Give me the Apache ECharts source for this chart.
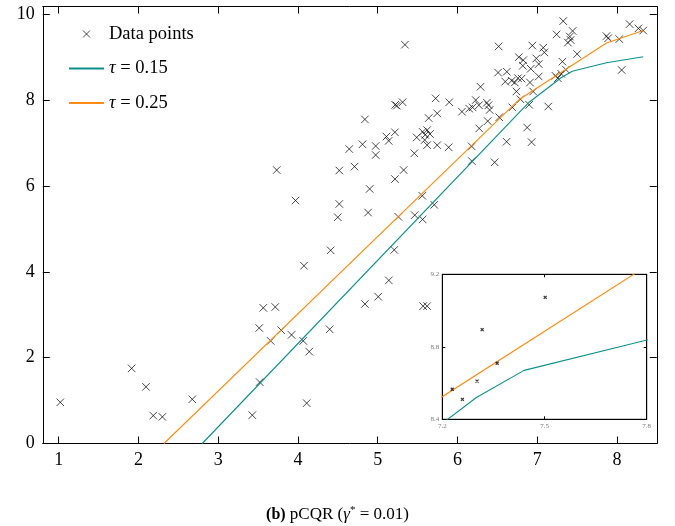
<!DOCTYPE html>
<html>
<head>
<meta charset="utf-8">
<script src="https://cdn.jsdelivr.net/npm/echarts@6/dist/echarts.min.js"></script>
<style>html,body{margin:0;padding:0;background:#fff}#c{width:675px;height:526px}</style>
</head>
<body>
<div id="c"></div>
<script>
// ---- data ----
const pointX = [1.02,1.915,2.095,2.186,2.30,2.675,3.428,3.52,3.515,3.566,3.716,3.658,3.79,3.92,4.076,4.41,4.067,4.142,4.11,4.398,4.84,5.007,5.14,5.208,5.57,5.62,
  3.734,3.97,4.519,4.71,4.644,4.81,4.975,4.975,5.138,5.46,4.519,4.50,4.90,4.88,5.217,5.326,5.26,5.465,
  5.342,6.517,6.51,6.62,6.60,6.29,5.22,5.24,5.313,5.727,5.898,4.84,5.64,5.747,6.057,6.148,6.19,6.23,6.27,6.37,6.39,6.404,6.38,6.525,6.274,5.11,5.216,5.49,5.564,5.597,5.62,5.656,5.59,5.62,5.747,5.89,6.18,6.18,6.467,6.617,5.56,
  7.327,7.244,7.445,7.41,7.42,7.386,7.502,6.94,7.077,7.09,6.77,6.826,6.82,6.92,6.99,7.02,7.317,7.87,7.89,8.03,8.16,8.27,8.33,8.06,7.14,6.875,6.93,6.91,7.02,6.95,6.74,6.79,6.69,6.90,7.229,7.302,7.361,7.259,6.68,6.72,6.76,6.805,5.564,5.71];
const pointY = [0.96,1.75,1.32,0.65,0.62,1.03,0.66,1.43,2.69,3.16,3.18,2.39,2.64,2.53,4.14,4.50,2.39,2.14,0.94,2.66,3.25,3.42,3.80,4.51,3.20,3.20,
  6.37,5.66,6.36,6.45,6.86,6.97,6.93,6.72,7.05,6.76,5.58,5.27,5.93,5.38,6.16,6.37,5.28,5.32,
  9.29,9.25,8.64,8.66,8.43,8.31,7.89,7.87,7.95,8.04,7.95,7.55,7.58,7.69,7.73,7.80,7.83,8.00,7.88,7.94,7.88,7.77,7.51,7.60,7.34,7.15,7.25,7.13,7.26,7.19,7.30,7.21,7.07,6.95,6.95,6.90,6.92,6.58,6.55,7.03,5.77,
  9.84,9.53,9.61,9.48,9.40,9.34,9.073,9.27,9.22,9.11,9.00,8.93,8.80,8.73,8.97,8.84,8.895,9.49,9.44,9.42,9.77,9.67,9.62,8.70,7.85,7.36,7.02,8.41,8.55,8.20,8.20,8.02,7.83,7.89,8.566,8.611,8.709,8.51,8.45,8.41,8.51,8.50,5.22,5.56];
const tealX = [2.80, 6.90, 7.30, 7.44, 7.87, 8.33];
const tealY = [0, 7.95, 8.52, 8.67, 8.87, 9.01];
const orangeX = [2.32, 6.78, 7.87, 8.33];
const orangeY = [0, 8.02, 9.33, 9.62];
const xTicks = [1,2,3,4,5,6,7,8];
const yTicks = [0,2,4,6,8,10];
const insetXTicks = [7.2,7.5,7.8];
const insetYTicks = [8.4,8.8,9.2];
const seriesNames = ['Data points','τ = 0.15','τ = 0.25'];
const caption = '(b)';

// ---- build ----
const zip = (a,b) => a.map((v,i)=>[v,b[i]]);
const pts = zip(pointX, pointY);
const FONT = 'Liberation Serif';
const XSYM = 'path://M0,0L10,10M10,0L0,10';
const TEAL = '#0b8f8c', ORANGE = '#ff8c12';

function mkAxis(gridIndex, pos, min, max, ticks, showLabel, tickLen, labelStyle){
  return {
    type:'value', gridIndex, position:pos, min, max,
    splitLine:{show:false},
    axisLine:{show:true, onZero:false, lineStyle:{color:'#000', width:1}},
    axisTick:{show:true, inside:true, length:tickLen, customValues:ticks, lineStyle:{color:'#000', width:1}},
    axisLabel:Object.assign({show:showLabel, customValues:ticks}, labelStyle||{})
  };
}
const mainLabel = {fontFamily:FONT, fontSize:18, color:'#000', margin:8};
const insetLabel = {fontFamily:FONT, fontSize:7, color:'#777', margin:3, formatter:v=>v.toFixed(1)};

const option = {
  animation:false,
  backgroundColor:'#fff',
  title:{
    text:'{b|' + caption + '} pCQR ({i|γ}{s|*} = 0.01)',
    left:'center', top:500,
    textStyle:{fontFamily:FONT, fontSize:17, fontWeight:'normal', color:'#000',
      rich:{
        b:{fontFamily:FONT, fontSize:16, fontWeight:'bold', color:'#000'},
        i:{fontFamily:FONT, fontSize:17, fontStyle:'italic', color:'#000'},
        s:{fontFamily:FONT, fontSize:11, color:'#000', padding:[0,0,9,0]}
      }}
  },
  legend:{
    data:[
      {name:seriesNames[0], itemStyle:{color:'none', borderColor:'#000', borderWidth:0.9}},
      {name:seriesNames[1], itemStyle:{opacity:0}},
      {name:seriesNames[2], itemStyle:{opacity:0}}
    ],
    orient:'vertical', left:68, top:24, padding:0,
    itemWidth:35, itemHeight:7, itemGap:14.5,
    textStyle:{fontFamily:FONT, fontSize:18.5, color:'#000', lineHeight:20,
      rich:{it:{fontFamily:FONT, fontSize:18.5, fontStyle:'italic', color:'#000'}}},
    formatter:n => n.charAt(0)==='τ' ? '{it|τ}' + n.slice(1) : n
  },
  grid:[
    {left:42.75, top:6.5, width:614, height:437, containLabel:false},
    {left:442.3, top:274.3, width:204.4, height:145, show:true, backgroundColor:'#fff', borderColor:'#000', borderWidth:1, z:5}
  ],
  xAxis:[
    mkAxis(0,'bottom',0.8,8.5,xTicks,true,7,mainLabel),
    mkAxis(0,'top',0.8,8.5,xTicks,false,7),
    Object.assign(mkAxis(1,'bottom',7.2,7.8,insetXTicks,true,3,insetLabel),{z:6}),
    Object.assign(mkAxis(1,'top',7.2,7.8,insetXTicks,false,3),{z:6})
  ],
  yAxis:[
    mkAxis(0,'left',0,10.18,yTicks,true,7,mainLabel),
    mkAxis(0,'right',0,10.18,yTicks,false,7),
    Object.assign(mkAxis(1,'left',8.4,9.2,insetYTicks,true,3,insetLabel),{z:6}),
    Object.assign(mkAxis(1,'right',8.4,9.2,insetYTicks,false,3),{z:6})
  ],
  series:[
    {name:seriesNames[0], type:'scatter', xAxisIndex:0, yAxisIndex:0, data:pts,
     symbol:XSYM, symbolSize:7.5, itemStyle:{color:'none', borderColor:'#000', borderWidth:0.9}},
    {name:seriesNames[1], type:'line', xAxisIndex:0, yAxisIndex:0, data:zip(tealX,tealY),
     symbol:'none', showSymbol:false, lineStyle:{color:TEAL, width:1.1}, itemStyle:{color:TEAL}, clip:true},
    {name:seriesNames[2], type:'line', xAxisIndex:0, yAxisIndex:0, data:zip(orangeX,orangeY),
     symbol:'none', showSymbol:false, lineStyle:{color:ORANGE, width:1.1}, itemStyle:{color:ORANGE}, clip:true},
    {name:'inset points', type:'scatter', xAxisIndex:2, yAxisIndex:2, data:pts, z:7, clip:true,
     symbol:XSYM, symbolSize:3, itemStyle:{color:'none', borderColor:'#000', borderWidth:1.2}},
    {name:'inset teal', type:'line', xAxisIndex:2, yAxisIndex:2, data:zip(tealX,tealY), z:7, clip:true,
     symbol:'none', showSymbol:false, lineStyle:{color:TEAL, width:1.1}},
    {name:'inset orange', type:'line', xAxisIndex:2, yAxisIndex:2, data:zip(orangeX,orangeY), z:7, clip:true,
     symbol:'none', showSymbol:false, lineStyle:{color:ORANGE, width:1.1}}
  ]
};
const chart = echarts.init(document.getElementById('c'), null, {renderer:'canvas'});
chart.setOption(option);
</script>
</body>
</html>
